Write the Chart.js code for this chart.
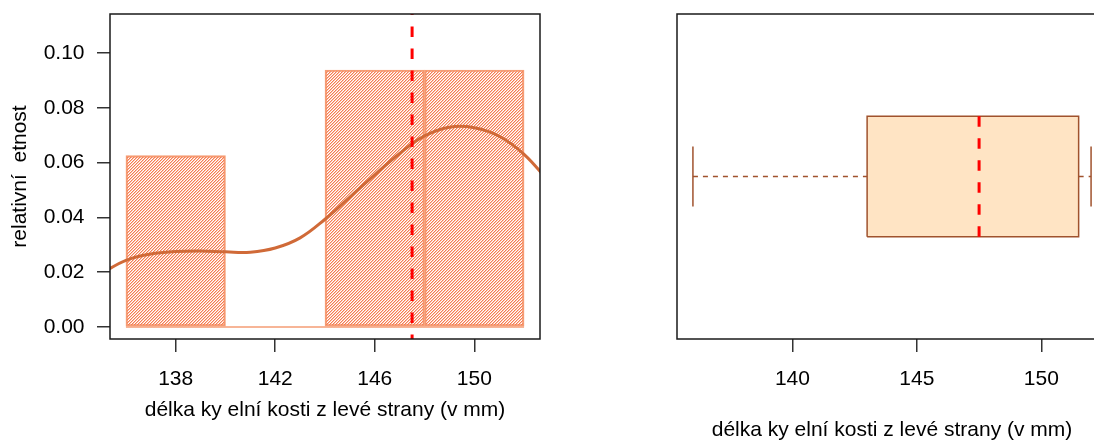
<!DOCTYPE html>
<html>
<head>
<meta charset="utf-8">
<script src="https://cdn.jsdelivr.net/npm/chart.js@4/dist/chart.umd.min.js"></script>
<style>
  html, body { margin: 0; padding: 0; background: #fff; overflow: hidden; width: 1094px; height: 441px; }
  canvas { position: absolute; top: 0; }
  #hist { left: 0; }
  #box { left: 567px; }
</style>
</head>
<body>
<canvas id="hist" width="550" height="441"></canvas>
<canvas id="box" width="550" height="441"></canvas>
<script>
// data
const binEdges = [136, 140, 144, 148, 152];
const relFreq = [0.0625, 0, 0.09375, 0.09375];
const densX = [135, 136, 137, 138, 139, 140, 141, 142, 143, 144, 145, 146, 147, 148, 149, 150, 151, 152, 153];
const densY = [0.0195, 0.0243, 0.0266, 0.0275, 0.0277, 0.0274, 0.0273, 0.0288, 0.0325, 0.0393, 0.0474, 0.0555, 0.0633, 0.0697, 0.0729, 0.0727, 0.0696, 0.0630, 0.0530];
const medianValue = 147.5;
const boxStats = [136, 143, 147.5, 151.5, 152]; // min, q1, median, q3, max
const histTicksX = [138, 142, 146, 150];
const histTicksY = [0, 0.02, 0.04, 0.06, 0.08, 0.10];
const boxTicksX = [140, 145, 150];
const xTitle = 'délka ky elní kosti z levé strany (v mm)';
const yTitle = 'relativní  etnost';

// ranges (R style, 4 % extension)
const xMin = 135.36, xMax = 152.64;
const yMin = -0.0044, yMax = 0.1142;

Chart.defaults.font.family = '"Liberation Sans", Arial, sans-serif';
Chart.defaults.font.size = 21;
Chart.defaults.color = '#000';
Chart.defaults.animation = false;

// hatch pattern for the histogram bars ("/" lines)
function hatch(ctx) {
  const c = document.createElement('canvas');
  c.width = 3; c.height = 3;
  const g = c.getContext('2d');
  g.fillStyle = 'rgb(246,124,80)';
  for (let i = 0; i < 3; i++) g.fillRect(i, 2 - i, 1, 1);
  g.fillStyle = 'rgba(246,124,80,0.45)';
  for (let i = 0; i < 3; i++) g.fillRect(i, (3 - i) % 3, 1, 1);
  return ctx.createPattern(c, 'repeat');
}

// box round the plot area
const frame = {
  id: 'frame',
  afterDatasetsDraw(chart) {
    const a = chart.chartArea, ctx = chart.ctx;
    ctx.save();
    ctx.strokeStyle = '#1a1a1a';
    ctx.lineWidth = 1.5;
    ctx.strokeRect(a.left, a.top, a.right - a.left, a.bottom - a.top);
    ctx.restore();
  }
};

const xAxisBase = (ticks, titlePad) => ({
  type: 'linear',
  min: xMin, max: xMax,
  offset: false,
  afterBuildTicks: s => { s.ticks = ticks.map(v => ({ value: v })); },
  afterFit: s => { s.height = 102; s.paddingLeft = 0; s.paddingRight = 0; },
  grid: { drawOnChartArea: false, tickLength: 13, color: '#333', lineWidth: 1.5, offset: false },
  border: { display: false },
  ticks: { padding: 15, maxRotation: 0, autoSkip: false },
  title: { display: true, text: xTitle, font: { size: 21, lineHeight: 1 }, padding: { top: 0, bottom: titlePad } }
});

// -------------------------------------------------------
// histogram + density
const hctx = document.getElementById('hist').getContext('2d');
const centers = relFreq.map((v, i) => (binEdges[i] + binEdges[i + 1]) / 2);

new Chart(hctx, {
  type: 'bar',
  data: {
    datasets: [
      {
        type: 'bar',
        data: centers.map((x, i) => ({ x: x, y: relFreq[i] })),
        backgroundColor: hatch(hctx),
        borderColor: '#f59c74',
        borderWidth: 1.5,
        borderSkipped: false,
        barPercentage: 1,
        categoryPercentage: 1,
        order: 3
      },
      {
        type: 'line',
        data: [{ x: binEdges[0], y: 0 }, { x: binEdges[binEdges.length - 1], y: 0 }],
        borderColor: '#f59c74',
        borderWidth: 1.5,
        pointRadius: 0,
        order: 4
      },
      {
        type: 'line',
        data: densX.map((x, i) => ({ x: x, y: densY[i] })),
        borderColor: '#d06a38',
        borderWidth: 3,
        pointRadius: 0,
        tension: 0.4,
        order: 1
      },
      {
        type: 'line',
        data: [{ x: medianValue, y: yMax }, { x: medianValue, y: yMin }],
        borderColor: '#ff0000',
        borderWidth: 3,
        borderDash: [10.5, 11.5],
        borderDashOffset: 9.5,
        pointRadius: 0,
        order: 0
      }
    ]
  },
  options: {
    responsive: false,
    layout: { padding: { left: 0, top: 14, right: 10, bottom: 0 } },
    plugins: { legend: { display: false }, tooltip: { enabled: false } },
    scales: {
      x: xAxisBase(histTicksX, 20),
      y: {
        type: 'linear',
        min: yMin, max: yMax,
        afterBuildTicks: s => { s.ticks = histTicksY.map(v => ({ value: v })); },
        afterFit: s => { s.width = 110; s.paddingTop = 0; s.paddingBottom = 0; },
        grid: { drawOnChartArea: false, tickLength: 13, color: '#333', lineWidth: 1.5 },
        border: { display: false },
        ticks: { padding: 12.5, callback: v => v.toFixed(2) },
        title: { display: true, text: yTitle, font: { size: 21, lineHeight: 1 }, padding: { top: 9.5, bottom: 0 } }
      }
    }
  },
  plugins: [frame]
});

// -------------------------------------------------------
// boxplot
const [bMin, bQ1, bMed, bQ3, bMax] = boxStats;
const boxLo = 0.8, boxHi = 1.2, capLo = 0.9, capHi = 1.1, mid = 1;
const brown = '#a0522d';
const seg = (pts, extra) => Object.assign({
  data: pts.map(p => ({ x: p[0], y: p[1] })),
  borderColor: brown, borderWidth: 1.5, pointRadius: 0, fill: false
}, extra);

new Chart(document.getElementById('box'), {
  type: 'line',
  data: {
    datasets: [
      seg([[bQ1, boxHi], [bQ3, boxHi]], { borderWidth: 0, backgroundColor: '#ffe4c4', fill: { value: boxLo }, order: 5 }),
      seg([[bQ1, boxLo], [bQ3, boxLo], [bQ3, boxHi], [bQ1, boxHi], [bQ1, boxLo]], { order: 2 }),
      seg([[bMin, mid], [bQ1, mid]], { borderDash: [5, 5], order: 3 }),
      seg([[bQ3, mid], [bMax, mid]], { borderDash: [5, 5], order: 3 }),
      seg([[bMin, capLo], [bMin, capHi]], { order: 3 }),
      seg([[bMax, capLo], [bMax, capHi]], { order: 3 }),
      seg([[bMed, boxLo], [bMed, boxHi]], { borderColor: '#ff0000', borderWidth: 3, borderDash: [10.5, 11.5], order: 0 })
    ]
  },
  options: {
    responsive: false,
    layout: { padding: { left: 110, top: 14, right: 10, bottom: 0 } },
    plugins: { legend: { display: false }, tooltip: { enabled: false } },
    scales: {
      x: xAxisBase(boxTicksX, 0),
      y: { type: 'linear', display: false, min: 0.46, max: 1.54 }
    }
  },
  plugins: [frame]
});
</script>
</body>
</html>
